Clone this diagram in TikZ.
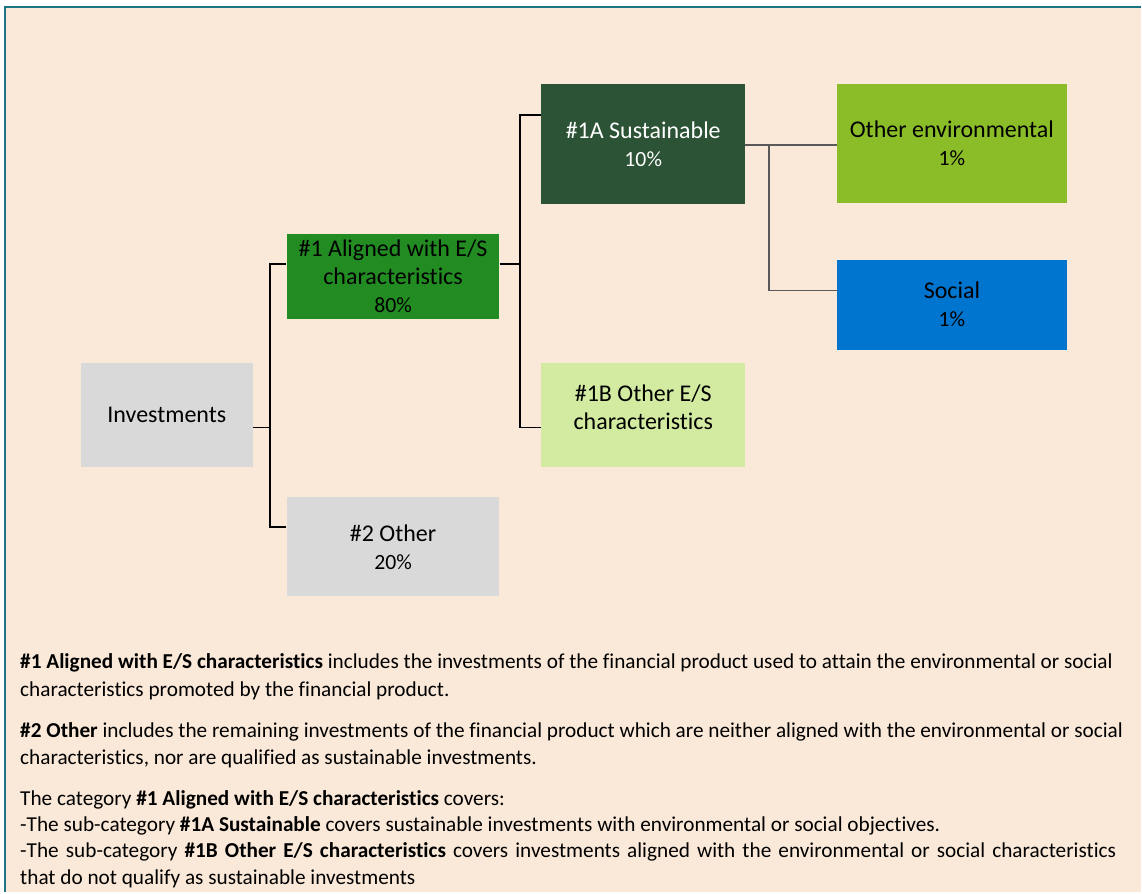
\documentclass[tikz,border=0pt]{standalone}
\usepackage{fontspec}
\setmainfont{Carlito}[Ligatures=NoCommon]
\definecolor{peach}{HTML}{FAE8D8}
\definecolor{frameteal}{HTML}{1A7584}
\definecolor{boxgrey}{HTML}{D9D9D9}
\definecolor{alignedgreen}{HTML}{228B22}
\definecolor{sustgreen}{HTML}{2C5335}
\definecolor{palegreen}{HTML}{D2EBA0}
\definecolor{limegreen}{HTML}{8BBD28}
\definecolor{socialblue}{HTML}{0075CF}
\newcommand{\boxfont}{\fontsize{18pt}{21pt}\selectfont}
\newcommand{\pctfont}{\fontsize{16.3pt}{21pt}\selectfont}
\newcommand{\bodyfont}{\fontsize{15.95pt}{20pt}\selectfont}
\begin{document}
\begin{tikzpicture}[x=0.75pt, y=-0.75pt,
	box/.style={inner sep=0pt, align=center, font=\boxfont},
	conn/.style={line width=1.5pt, black},
	gconn/.style={line width=1.1pt, black!65},
	bodyline/.style={anchor=base west, inner sep=0pt, font=\bodyfont}]
	% Hintergrund und Rahmen
	\fill[white] (0,0) rectangle (1142,893);
	\fill[peach] (5,7) rectangle (1142,893);
	\draw[frameteal, line width=2pt] (5,893) -- (5,7) -- (1142,7);
	% Kaesten
	\node[box, fill=boxgrey, minimum width=129pt, minimum height=78.75pt] (inv) at (167,415.5) {Investments};
	\node[box, fill=alignedgreen, minimum width=159.75pt, minimum height=63.75pt] (al) at (393.5,276.5)
		{\#1 Aligned with E/S\\characteristics\\{\pctfont 80\%}};
	\node[box, fill=boxgrey, minimum width=159.75pt, minimum height=74.25pt] (oth) at (393.5,547.5)
		{\#2 Other\\{\pctfont 20\%}};
	\node[box, fill=sustgreen, text=white, minimum width=153pt, minimum height=90pt] (sus) at (644,144)
		{\#1A Sustainable\\{\pctfont 10\%}};
	\node[box, fill=palegreen, minimum width=153pt, minimum height=78.75pt, text depth=12pt] (oes) at (644,415.5)
		{\#1B Other E/S\\characteristics};
	\node[box, fill=limegreen, minimum width=172.5pt, minimum height=89.25pt] (env) at (953,143.5)
		{Other environmental\\{\pctfont 1\%}};
	\node[box, fill=socialblue, minimum width=172.5pt, minimum height=67.5pt] (soc) at (953,305)
		{Social\\{\pctfont 1\%}};
	% Verbindungen
	\coordinate (s1t) at (270,264);
	\coordinate (s1b) at (270,528);
	\coordinate (s2t) at (521,115);
	\coordinate (s2m) at (521,264);
	\coordinate (s2b) at (521,428);
	\coordinate (s3t) at (770,145);
	\coordinate (s3b) at (770,291);
	\draw[conn] (inv.east |- 0,428) -- (s1t |- 0,428);
	\draw[conn] (al.west |- s1t) -- (s1t) -- (s1b) -- (oth.west |- s1b);
	\draw[conn] (al.east |- s2m) -- (s2m);
	\draw[conn] (sus.west |- s2t) -- (s2t) -- (s2b) -- (oes.west |- s2b);
	\draw[gconn] (sus.east |- s3t) -- (env.west |- s3t);
	\draw[gconn] (s3t) -- (s3b) -- (soc.west |- s3b);
	% Erlaeuterungen
	\node[bodyline] (t1) at (20,669) {\textbf{\#1 Aligned with E/S characteristics} includes the investments of the financial product used to attain the environmental or social};
	\node[bodyline] (t2) at (20,697) {characteristics promoted by the financial product.};
	\node[bodyline] (t3) at (20,738) {\textbf{\#2 Other} includes the remaining investments of the financial product which are neither aligned with the environmental or social};
	\node[bodyline] (t4) at (20,765) {characteristics, nor are qualified as sustainable investments.};
	\node[bodyline] (t5) at (20,806) {The category \textbf{\#1 Aligned with E/S characteristics} covers:};
	\node[bodyline] (t6) at (20,832) {-The sub-category \textbf{\#1A Sustainable} covers sustainable investments with environmental or social objectives.};
	\node[bodyline] (t7) at (20,859) {\makebox[822.75pt][s]{-The sub-category \textbf{\#1B Other E/S characteristics} covers investments aligned with the environmental or social characteristics}};
	\node[bodyline] (t8) at (20,886) {that do not qualify as sustainable investments};
\end{tikzpicture}
\end{document}
